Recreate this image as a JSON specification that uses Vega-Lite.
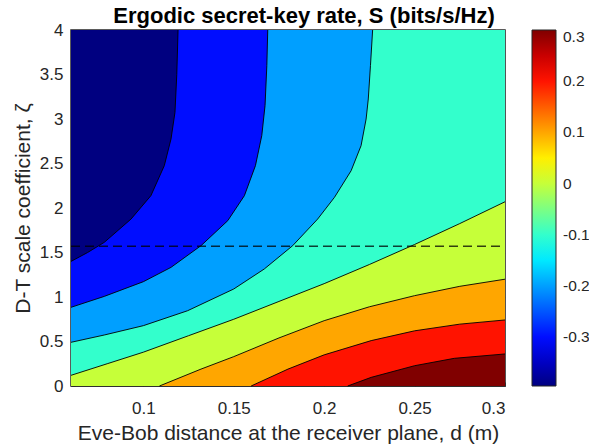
{
  "$schema": "https://vega.github.io/schema/vega-lite/v6.json",
  "width": 434,
  "height": 356,
  "padding": {"left": 12, "top": 5, "right": 0, "bottom": 0},
  "background": "white",
  "title": {"text": "Ergodic secret-key rate, S (bits/s/Hz)", "fontSize": 22, "fontWeight": "bold", "color": "#000000", "font": "Liberation Sans", "anchor": "middle", "dx": 16, "offset": -7},
  "data": {"values": [
    {"level": -0.3955, "x": 0.06, "y": 4, "pad": 1},
    {"level": -0.3955, "x": 0.3, "y": 4, "pad": 1},
    {"level": -0.3, "x": 0.06, "y": 1.40},
    {"level": -0.3, "x": 0.0692, "y": 1.50},
    {"level": -0.3, "x": 0.0784, "y": 1.614},
    {"level": -0.3, "x": 0.0932, "y": 1.876},
    {"level": -0.3, "x": 0.1042, "y": 2.139},
    {"level": -0.3, "x": 0.1116, "y": 2.476},
    {"level": -0.3, "x": 0.1153, "y": 2.775},
    {"level": -0.3, "x": 0.1175, "y": 3.075},
    {"level": -0.3, "x": 0.1185, "y": 3.5},
    {"level": -0.3, "x": 0.1192, "y": 4},
    {"level": -0.3, "x": 0.3, "y": 4, "pad": 1},
    {"level": -0.2, "x": 0.06, "y": 0.884},
    {"level": -0.2, "x": 0.0784, "y": 1.007},
    {"level": -0.2, "x": 0.1, "y": 1.172},
    {"level": -0.2, "x": 0.1153, "y": 1.333},
    {"level": -0.2, "x": 0.1319, "y": 1.577},
    {"level": -0.2, "x": 0.1467, "y": 1.858},
    {"level": -0.2, "x": 0.1559, "y": 2.139},
    {"level": -0.2, "x": 0.162, "y": 2.476},
    {"level": -0.2, "x": 0.1655, "y": 2.813},
    {"level": -0.2, "x": 0.1673, "y": 3.15},
    {"level": -0.2, "x": 0.1683, "y": 3.6},
    {"level": -0.2, "x": 0.1688, "y": 4},
    {"level": -0.2, "x": 0.3, "y": 4, "pad": 1},
    {"level": -0.1, "x": 0.06, "y": 0.491},
    {"level": -0.1, "x": 0.0784, "y": 0.573},
    {"level": -0.1, "x": 0.1, "y": 0.678},
    {"level": -0.1, "x": 0.1245, "y": 0.846},
    {"level": -0.1, "x": 0.15, "y": 1.09},
    {"level": -0.1, "x": 0.1669, "y": 1.315},
    {"level": -0.1, "x": 0.1826, "y": 1.577},
    {"level": -0.1, "x": 0.1964, "y": 1.876},
    {"level": -0.1, "x": 0.2057, "y": 2.12},
    {"level": -0.1, "x": 0.2149, "y": 2.419},
    {"level": -0.1, "x": 0.2204, "y": 2.7},
    {"level": -0.1, "x": 0.2232, "y": 3.0},
    {"level": -0.1, "x": 0.2244, "y": 3.225},
    {"level": -0.1, "x": 0.2256, "y": 3.6},
    {"level": -0.1, "x": 0.2268, "y": 4},
    {"level": -0.1, "x": 0.3, "y": 4, "pad": 1},
    {"level": 0, "x": 0.06, "y": 0.12},
    {"level": 0, "x": 0.08, "y": 0.25},
    {"level": 0, "x": 0.1, "y": 0.38},
    {"level": 0, "x": 0.125, "y": 0.565},
    {"level": 0, "x": 0.15, "y": 0.75},
    {"level": 0, "x": 0.175, "y": 0.95},
    {"level": 0, "x": 0.2, "y": 1.15},
    {"level": 0, "x": 0.225, "y": 1.365},
    {"level": 0, "x": 0.25, "y": 1.59},
    {"level": 0, "x": 0.275, "y": 1.825},
    {"level": 0, "x": 0.3, "y": 2.07},
    {"level": 0.1, "x": 0.06, "y": 0, "pad": 1},
    {"level": 0.1, "x": 0.1089, "y": 0},
    {"level": 0.1, "x": 0.1319, "y": 0.19},
    {"level": 0.1, "x": 0.15, "y": 0.33},
    {"level": 0.1, "x": 0.175, "y": 0.54},
    {"level": 0.1, "x": 0.2, "y": 0.734},
    {"level": 0.1, "x": 0.225, "y": 0.89},
    {"level": 0.1, "x": 0.25, "y": 1.015},
    {"level": 0.1, "x": 0.275, "y": 1.12},
    {"level": 0.1, "x": 0.3, "y": 1.2},
    {"level": 0.2, "x": 0.06, "y": 0, "pad": 1},
    {"level": 0.2, "x": 0.1596, "y": 0},
    {"level": 0.2, "x": 0.18, "y": 0.19},
    {"level": 0.2, "x": 0.2, "y": 0.35},
    {"level": 0.2, "x": 0.226, "y": 0.51},
    {"level": 0.2, "x": 0.25, "y": 0.62},
    {"level": 0.2, "x": 0.275, "y": 0.695},
    {"level": 0.2, "x": 0.3, "y": 0.742},
    {"level": 0.3, "x": 0.06, "y": 0, "pad": 1},
    {"level": 0.3, "x": 0.213, "y": 0},
    {"level": 0.3, "x": 0.226, "y": 0.097},
    {"level": 0.3, "x": 0.25, "y": 0.228},
    {"level": 0.3, "x": 0.272, "y": 0.311},
    {"level": 0.3, "x": 0.3, "y": 0.36}
  ]},
  "encoding": {
    "x": {"field": "x", "type": "quantitative", "scale": {"domain": [0.06, 0.3], "nice": false, "zero": false},
      "axis": {"values": [0.1, 0.15, 0.2, 0.25, 0.3], "format": ".2~f", "title": "Eve-Bob distance at the receiver plane, d (m)", "tickSize": -4, "labelPadding": 18.5, "titlePadding": 6}},
    "y": {"field": "y", "type": "quantitative", "stack": null, "scale": {"domain": [0, 4], "nice": false, "zero": false},
      "axis": {"values": [0, 0.5, 1, 1.5, 2, 2.5, 3, 3.5, 4], "format": ".1~f", "title": "D-T scale coefficient, ζ", "tickSize": -4, "labelPadding": 12, "titlePadding": 6}}
  },
  "layer": [
    {"transform": [{"filter": "datum.level == -0.3955"}], "mark": {"type": "area"},
     "encoding": {"color": {"field": "level", "type": "quantitative",
          "scale": {"domain": [-0.3955, -0.3086, -0.1347, 0.0392, 0.2131, 0.3], "range": ["#000080", "#0000ff", "#00ffff", "#ffff00", "#ff0000", "#800000"], "interpolate": "rgb"},
          "legend": {"values": [0.3, 0.2, 0.1, 0, -0.1, -0.2, -0.3], "title": null, "direction": "vertical", "gradientLength": 356, "gradientThickness": 24, "offset": 25, "padding": 0, "labelFontSize": 15.5, "labelFont": "Liberation Sans", "labelColor": "#262626", "labelOffset": 7, "gradientStrokeColor": "#262626", "gradientStrokeWidth": 1,
            "labelExpr": "datum.value < 0 ? '-' + format(-datum.value, '.1~f') : format(datum.value, '.1~f')"}}}},
    {"transform": [{"filter": "datum.level == -0.3"}], "mark": {"type": "area"}, "encoding": {"color": {"field": "level", "type": "quantitative"}}},
    {"transform": [{"filter": "datum.level == -0.2"}], "mark": {"type": "area"}, "encoding": {"color": {"field": "level", "type": "quantitative"}}},
    {"transform": [{"filter": "datum.level == -0.1"}], "mark": {"type": "area"}, "encoding": {"color": {"field": "level", "type": "quantitative"}}},
    {"transform": [{"filter": "datum.level == 0"}], "mark": {"type": "area"}, "encoding": {"color": {"field": "level", "type": "quantitative"}}},
    {"transform": [{"filter": "datum.level == 0.1"}], "mark": {"type": "area"}, "encoding": {"color": {"field": "level", "type": "quantitative"}}},
    {"transform": [{"filter": "datum.level == 0.2"}], "mark": {"type": "area"}, "encoding": {"color": {"field": "level", "type": "quantitative"}}},
    {"transform": [{"filter": "datum.level == 0.3"}], "mark": {"type": "area"}, "encoding": {"color": {"field": "level", "type": "quantitative"}}},
    {
      "transform": [{"filter": "!datum.pad"}],
      "mark": {"type": "line", "color": "#000000", "strokeWidth": 0.9},
      "encoding": {"detail": {"field": "level", "type": "nominal"}}
    },
    {
      "data": {"values": [{"x": 0.06, "y": 1.5708}, {"x": 0.3, "y": 1.5708}]},
      "mark": {"type": "line", "color": "#000000", "opacity": 0.75, "strokeWidth": 1.5, "strokeDash": [9, 5]},
      "encoding": {}
    }
  ],
  "config": {
    "font": "Liberation Sans",
    "view": {"stroke": "#262626", "strokeWidth": 1.5},
    "axis": {"labelFont": "Liberation Sans", "titleFont": "Liberation Sans", "labelFontSize": 17, "titleFontSize": 21, "titleFontWeight": "normal", "labelColor": "#262626", "titleColor": "#262626", "domainColor": "#262626", "domainWidth": 0.8, "tickColor": "#262626", "tickWidth": 0.8, "gridColor": "#262626", "gridOpacity": 0.15, "gridWidth": 0.8, "zindex": 1}
  }
}
